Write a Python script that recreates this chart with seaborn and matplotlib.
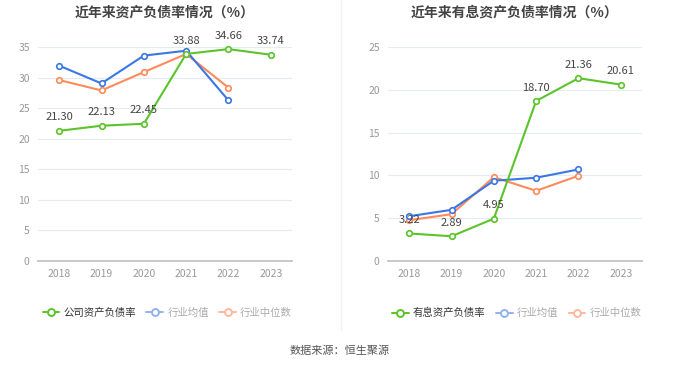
import matplotlib

matplotlib.use("Agg")

import matplotlib.pyplot as plt
import pandas as pd
import seaborn as sns
from matplotlib.lines import Line2D

years = ["2018", "2019", "2020", "2021", "2022", "2023"]

# left panel: 资产负债率
company_debt = [21.30, 22.13, 22.45, 33.88, 34.66, 33.74]
industry_avg_debt = [31.95, 29.05, 33.6, 34.4, 26.27, None]
industry_med_debt = [29.6, 27.9, 30.9, 33.86, 28.35, None]

# right panel: 有息资产负债率
company_int = [3.22, 2.89, 4.95, 18.70, 21.36, 20.61]
industry_avg_int = [5.23, 5.98, 9.38, 9.73, 10.7, None]
industry_med_int = [4.77, 5.47, 9.8, 8.2, 9.96, None]

GREEN = "#5ac42a"
BLUE = "#3b77e3"
ORANGE = "#ff8a5a"

sns.set_theme(style="white")
plt.rcParams["font.family"] = ["Noto Sans CJK SC", "DejaVu Sans"]


def build_frame(company, avg, med, company_name):
    rows = []
    for name, values in [(company_name, company), ("行业均值", avg), ("行业中位数", med)]:
        for year, value in zip(years, values):
            if value is not None:
                rows.append({"year": year, "value": value, "series": name})
    return pd.DataFrame(rows)


def draw_panel(fig, rect, df, company_name, company, ymax, title):
    ax = fig.add_axes(rect)
    palette = {company_name: GREEN, "行业均值": BLUE, "行业中位数": ORANGE}
    # industry lines first, company on top
    for name in ["行业中位数", "行业均值", company_name]:
        sub = df[df["series"] == name]
        sns.lineplot(
            data=sub, x="year", y="value", ax=ax, color=palette[name],
            marker="o", markersize=4, markerfacecolor="white",
            markeredgecolor=palette[name], markeredgewidth=1.2,
            linewidth=1.5, legend=False, clip_on=False,
        )
    for i, v in enumerate(company):
        ax.annotate(f"{v:.2f}", (i, v), xytext=(0, 6), textcoords="offset points",
                    ha="center", va="bottom", fontsize=8, color="#444444")
    ax.set_xlim(-0.5, len(years) - 0.5)
    ax.set_ylim(0, ymax)
    ax.set_yticks(range(0, ymax + 1, 5))
    ax.set_xlabel("")
    ax.set_ylabel("")
    ax.grid(axis="y", color="#e6eaf4", linewidth=0.8)
    ax.set_axisbelow(True)
    for side in ["top", "right", "left"]:
        ax.spines[side].set_visible(False)
    ax.spines["bottom"].set_color("#c8c8c8")
    ax.spines["bottom"].set_linewidth(1.4)
    ax.tick_params(axis="both", length=0, labelsize=7.5, labelcolor="#999999", pad=6)
    ax.set_title(title, fontsize=10, fontweight="bold", color="#444444", pad=22)
    return ax


def add_legend(fig, company_name, center_x):
    handles = [
        Line2D([], [], color=GREEN, marker="o", markerfacecolor="white",
               markeredgecolor=GREEN, markersize=5, markeredgewidth=1.4, linewidth=1.4),
        Line2D([], [], color="#92b3f2", marker="o", markerfacecolor="white",
               markeredgecolor="#92b3f2", markersize=5, markeredgewidth=1.4, linewidth=1.4),
        Line2D([], [], color="#ffb89c", marker="o", markerfacecolor="white",
               markeredgecolor="#ffb89c", markersize=5, markeredgewidth=1.4, linewidth=1.4),
    ]
    leg = fig.legend(handles, [company_name, "行业均值", "行业中位数"], loc="center",
                     bbox_to_anchor=(center_x, 0.147), ncol=3, frameon=False,
                     fontsize=7.5, handlelength=1.6, handletextpad=0.4,
                     columnspacing=1.0)
    colors = ["#333333", "#aaaaaa", "#aaaaaa"]
    for text, c in zip(leg.get_texts(), colors):
        text.set_color(c)


fig = plt.figure(figsize=(6.8, 3.67), dpi=100)

left_df = build_frame(company_debt, industry_avg_debt, industry_med_debt, "公司资产负债率")
right_df = build_frame(company_int, industry_avg_int, industry_med_int, "有息资产负债率")

draw_panel(fig, [0.0559, 0.2888, 0.3735, 0.583], left_df, "公司资产负债率",
           company_debt, 35, "近年来资产负债率情况（%）")
draw_panel(fig, [0.5706, 0.2888, 0.3735, 0.583], right_df, "有息资产负债率",
           company_int, 25, "近年来有息资产负债率情况（%）")

add_legend(fig, "公司资产负债率", 0.246)
add_legend(fig, "有息资产负债率", 0.76)

fig.add_artist(Line2D([0.501, 0.501], [0.1, 1.0], color="#f2f2f2", linewidth=1))
fig.text(0.5, 0.044, "数据来源：恒生聚源", ha="center", va="center",
         fontsize=8, color="#555555")

fig.savefig("out.png", dpi=100)
